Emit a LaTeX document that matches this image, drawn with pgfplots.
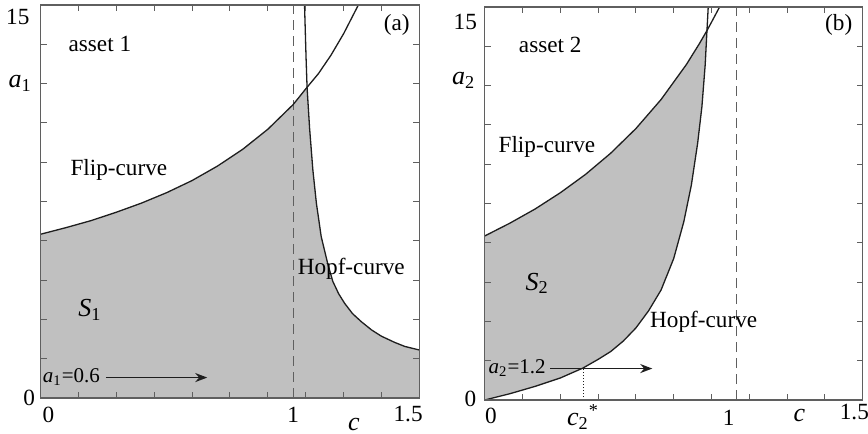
\documentclass[border=0pt]{standalone}
\usepackage{fontspec}
\setmainfont{Liberation Serif}
\usepackage{pgfplots}
\pgfplotsset{compat=1.18}
\usetikzlibrary{arrows.meta}
\definecolor{regfill}{RGB}{192,192,192}
\definecolor{axgray}{RGB}{95,95,95}
\definecolor{curvec}{RGB}{30,30,30}
\pgfplotsset{panel/.style={
  scale only axis, height=196.5pt,
  xmin=0,xmax=1.5,ymin=0,ymax=15,
  clip=false, axis on top,
  axis line style={axgray, line width=0.6pt},
  xtick={0,0.15,...,1.5}, ytick={0,1.5,...,15},
  xticklabels={}, yticklabels={},
  tick align=inside, major tick length=3pt,
  tick style={axgray, line width=0.5pt},
  font=\fontsize{11.6}{14}\selectfont,
  anchor=south west,
}}
\begin{document}
\begin{tikzpicture}
\path[use as bounding box] (0,0) rectangle (434pt,217pt);
% ---------------- panel (a)
\begin{axis}[panel, width=189.5pt, at={(20.25pt,18pt)}]
\addplot[fill=regfill, draw=none] coordinates {
(0,0) (0,6.25) (0.1,6.50) (0.2,6.77) (0.3,7.09) (0.4,7.44) (0.5,7.84) (0.6,8.30) (0.7,8.85) (0.8,9.49) (0.9,10.26) (1.0,11.20) (1.055,11.86)
(1.065,10.3) (1.078,8.7) (1.092,7.43) (1.111,6.16) (1.138,5.08) (1.157,4.45) (1.18,3.98) (1.204,3.61) (1.235,3.22) (1.27,2.91) (1.31,2.6) (1.349,2.36) (1.40,2.13) (1.441,1.97) (1.5,1.83) (1.5,0) (0,0)};
\addplot[axgray, line width=0.6pt, dash pattern=on 5pt off 3pt] coordinates {(1,0) (1,15)};
\addplot[curvec, line width=0.65pt] coordinates {
(0,6.25) (0.1,6.50) (0.2,6.77) (0.3,7.09) (0.4,7.44) (0.5,7.84) (0.6,8.30) (0.7,8.85) (0.8,9.49) (0.9,10.26) (1.0,11.20) (1.055,11.86) (1.1,12.38) (1.15,13.09) (1.2,13.91) (1.25,14.85) (1.258,15)};
\addplot[curvec, line width=0.65pt] coordinates {
(1.045,15) (1.048,14) (1.051,13) (1.055,11.86) (1.065,10.3) (1.078,8.7) (1.092,7.43) (1.111,6.16) (1.138,5.08) (1.157,4.45) (1.18,3.98) (1.204,3.61) (1.235,3.22) (1.27,2.91) (1.31,2.6) (1.349,2.36) (1.40,2.13) (1.441,1.97) (1.5,1.83)};
\addplot[curvec, line width=0.8pt, -{Stealth[length=6pt,width=4.5pt]}] coordinates {(0.259,0.78) (0.66,0.78)};
\node[anchor=east, font=\fontsize{10.5}{12.5}\selectfont] at (axis cs:0.263,0.80) {\textit{a}\textsubscript{1}=0.6};
\node at (axis cs:0.235,13.5) {asset 1};
\node at (axis cs:1.41,14.24) {(a)};
\node at (axis cs:0.31,8.7) {Flip-curve};
\node at (axis cs:1.23,4.93) {Hopf-curve};
\node[font=\fontsize{13}{15}\selectfont] at (axis cs:0.196,3.36) {\textit{S}\textsubscript{1}};
% tick labels
\node at (axis cs:-0.09,14.54) {15};
\node at (axis cs:-0.045,0) {0};
\node[font=\fontsize{13}{15}\selectfont] at (axis cs:-0.08,12.0) {\textit{a}\textsubscript{1}};
\node at (axis cs:0.031,-0.65) {0};
\node at (axis cs:1.0,-0.65) {1};
\node at (axis cs:1.455,-0.6) {1.5};
\node[font=\fontsize{13}{15}\selectfont] at (axis cs:1.24,-1.0) {\textit{c}};
\end{axis}
% ---------------- panel (b)
\begin{axis}[panel, width=189pt, at={(242.35pt,17pt)}]
\addplot[fill=regfill, draw=none] coordinates {
(0,0) (0,6.26) (0.1,6.75) (0.2,7.29) (0.3,7.91) (0.4,8.61) (0.5,9.42) (0.6,10.36) (0.7,11.47) (0.8,12.80) (0.85,13.57) (0.882,14.10)
(0.875,12.8) (0.862,11.2) (0.845,9.8) (0.82,8.2) (0.79,6.8) (0.75,5.4) (0.7,4.2) (0.65,3.4) (0.6,2.75) (0.55,2.25) (0.5,1.85) (0.45,1.55) (0.39,1.22) (0.3,0.84) (0.2,0.52) (0.1,0.24) (0,0)};
\addplot[axgray, line width=0.6pt, dash pattern=on 5pt off 3pt] coordinates {(1,0) (1,15)};
\addplot[curvec, line width=0.65pt] coordinates {
(0,6.26) (0.1,6.75) (0.2,7.29) (0.3,7.91) (0.4,8.61) (0.5,9.42) (0.6,10.36) (0.7,11.47) (0.8,12.80) (0.85,13.57) (0.882,14.10) (0.9,14.42) (0.932,15)};
\addplot[curvec, line width=0.65pt] coordinates {
(0,0) (0.1,0.24) (0.2,0.52) (0.3,0.84) (0.39,1.22) (0.45,1.55) (0.5,1.85) (0.55,2.25) (0.6,2.75) (0.65,3.4) (0.7,4.2) (0.75,5.4) (0.79,6.8) (0.82,8.2) (0.845,9.8) (0.862,11.2) (0.875,12.8) (0.882,14.1) (0.887,15)};
\addplot[curvec, line width=0.5pt, densely dotted] coordinates {(0.393,0) (0.393,1.2)};
\addplot[curvec, line width=0.8pt, -{Stealth[length=6pt,width=4.5pt]}] coordinates {(0.26,1.2) (0.665,1.2)};
\node[anchor=east, font=\fontsize{10.5}{12.5}\selectfont] at (axis cs:0.27,1.22) {\textit{a}\textsubscript{2}=1.2};
\node at (axis cs:0.26,13.55) {asset 2};
\node at (axis cs:1.405,14.3) {(b)};
\node at (axis cs:0.247,9.67) {Flip-curve};
\node at (axis cs:0.869,2.99) {Hopf-curve};
\node[font=\fontsize{13}{15}\selectfont] at (axis cs:0.208,4.45) {\textit{S}\textsubscript{2}};
% tick labels
\node at (axis cs:-0.077,14.44) {15};
\node at (axis cs:-0.057,0.05) {0};
\node[font=\fontsize{13}{15}\selectfont] at (axis cs:-0.083,12.2) {\textit{a}\textsubscript{2}};
\node at (axis cs:0.025,-0.6) {0};
\node[font=\fontsize{13}{15}\selectfont] at (axis cs:0.39,-0.65) {\textit{c}\textsubscript{2}\textsuperscript{*}};
\node at (axis cs:0.968,-0.68) {1};
\node[font=\fontsize{13}{15}\selectfont] at (axis cs:1.249,-0.6) {\textit{c}};
\node at (axis cs:1.467,-0.45) {1.5};
\end{axis}
\end{tikzpicture}
\end{document}
